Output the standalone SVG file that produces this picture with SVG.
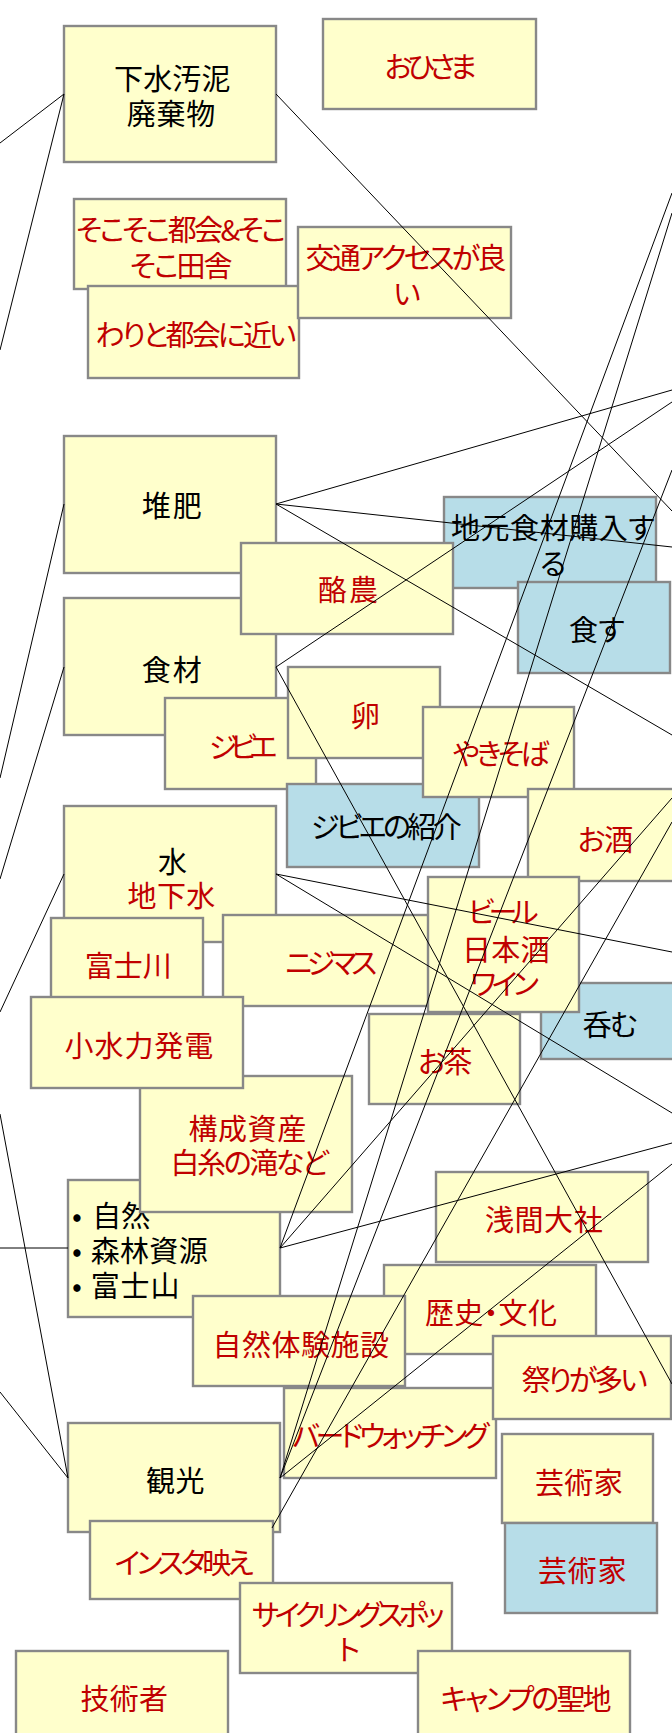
<svg xmlns="http://www.w3.org/2000/svg" width="672" height="1733" viewBox="0 0 672 1733">
<style>
rect.y{fill:#FFFFCC;stroke:#888888;stroke-width:2.4}
rect.bl{fill:#B7DDE8;stroke:#888888;stroke-width:2.4}
text{font-family:"Noto Sans CJK JP","Noto Sans",sans-serif;font-size:29px;font-feature-settings:"palt"}
.r{fill:#C00000}
.k{fill:#000000}
.m{text-anchor:middle}
#connectors line{stroke:#000000;stroke-width:1}
</style>
<rect width="672" height="1733" fill="#FFFFFF"/>
<g id="n-gesui"><rect class="y" x="64" y="26" width="212" height="136"/><text class="k" x="114" y="90" textLength="116.4">下水汚泥</text><text class="k" x="126.7" y="125" textLength="88.6">廃棄物</text></g>
<g id="n-ohisama"><rect class="y" x="323" y="19" width="213" height="90"/><text class="r" x="384.7" y="78" textLength="92">おひさま</text></g>
<g id="n-sokosoko"><rect class="y" x="74" y="199" width="212" height="90"/><text class="r" x="76" y="241" textLength="210">そこそこ都会&amp;そこ</text><text class="r" x="129.7" y="277" textLength="102.7">そこ田舎</text></g>
<g id="n-warito"><rect class="y" x="88" y="286" width="211" height="92"/><text class="r" x="95.4" y="346" textLength="201">わりと都会に近い</text></g>
<g id="n-koutsu"><rect class="y" x="298" y="227" width="213" height="91"/><text class="r" x="305.5" y="269" textLength="201">交通アクセスが良</text><text class="r m" x="407" y="305">い</text></g>
<g id="n-taihi"><rect class="y" x="64" y="436" width="212" height="137"/><text class="k" x="141.7" y="517" textLength="60">堆肥</text></g>
<g id="n-shokuzai"><rect class="y" x="64" y="598" width="212" height="137"/><text class="k" x="141.7" y="681" textLength="60">食材</text></g>
<g id="n-jimoto"><rect class="bl" x="444" y="497" width="212" height="91"/><text class="k" x="451" y="538.5" textLength="203.6">地元食材購入す</text><text class="k m" x="553" y="575">る</text></g>
<g id="n-rakunou"><rect class="y" x="241" y="543" width="212" height="91"/><text class="r" x="318" y="601" textLength="60">酪農</text></g>
<g id="n-shokusu"><rect class="bl" x="518" y="582" width="152" height="91"/><text class="k" x="569" y="641" textLength="55.6">食す</text></g>
<g id="n-jibie"><rect class="y" x="165" y="698" width="151" height="91"/><text class="r" x="209" y="758" textLength="68.4">ジビエ</text></g>
<g id="n-tamago"><rect class="y" x="288" y="667" width="152" height="91"/><text class="r m" x="365.4" y="727">卵</text></g>
<g id="n-jibie-shokai"><rect class="bl" x="287" y="784" width="192" height="83"/><text class="k" x="311" y="838" textLength="150.8">ジビエの紹介</text></g>
<g id="n-yakisoba"><rect class="y" x="423" y="707" width="151" height="90"/><text class="r" x="452.5" y="765" textLength="97">やきそば</text></g>
<g id="n-osake"><rect class="y" x="528" y="789" width="160" height="92"/><text class="r" x="577.6" y="851" textLength="55.6">お酒</text></g>
<g id="n-mizu"><rect class="y" x="64" y="806" width="212" height="136"/><text class="k m" x="172.5" y="873">水</text><text class="r" x="127.6" y="907" textLength="87.7">地下水</text></g>
<g id="n-fujikawa"><rect class="y" x="51" y="918" width="152" height="91"/><text class="r" x="84.7" y="977" textLength="87">富士川</text></g>
<g id="n-nijimasu"><rect class="y" x="223" y="915" width="212" height="91"/><text class="r" x="285.3" y="974" textLength="92">ニジマス</text></g>
<g id="n-nomu"><rect class="bl" x="541" y="983" width="152" height="76"/><text class="k" x="582.8" y="1036" textLength="54.7">呑む</text></g>
<g id="n-beer"><rect class="y" x="428" y="877" width="151" height="135"/><text class="r" x="468" y="923" textLength="70.6">ビール</text><text class="r" x="462" y="961" textLength="87.7">日本酒</text><text class="r" x="470.5" y="995" textLength="68.4">ワイン</text></g>
<g id="n-ocha"><rect class="y" x="369" y="1014" width="151" height="90"/><text class="r" x="418" y="1073" textLength="54.3">お茶</text></g>
<g id="n-shizen"><rect class="y" x="68" y="1180" width="212" height="137"/><text class="k m" x="77" y="1227">•</text><text class="k m" x="77" y="1262">•</text><text class="k m" x="77" y="1297">•</text><text class="k" x="92.3" y="1227" textLength="58">自然</text><text class="k" x="90.7" y="1262" textLength="117">森林資源</text><text class="k" x="90.7" y="1297" textLength="88.7">富士山</text></g>
<g id="n-kousei"><rect class="y" x="140" y="1076" width="212" height="136"/><text class="r" x="188.5" y="1140" textLength="117.7">構成資産</text><text class="r" x="170.4" y="1174" textLength="158.4">白糸の滝など</text></g>
<g id="n-shousuiryoku"><rect class="y" x="31" y="997" width="212" height="91"/><text class="r" x="64.6" y="1057" textLength="148.6">小水力発電</text></g>
<g id="n-sengen"><rect class="y" x="436" y="1172" width="212" height="90"/><text class="r" x="485" y="1231" textLength="117.7">浅間大社</text></g>
<g id="n-rekishi"><rect class="y" x="384" y="1265" width="212" height="89"/><text class="r" x="425" y="1324" textLength="132">歴史・文化</text></g>
<g id="n-shizentaiken"><rect class="y" x="193" y="1296" width="212" height="90"/><text class="r" x="212.5" y="1355.5" textLength="176.5">自然体験施設</text></g>
<g id="n-bird"><rect class="y" x="284" y="1388" width="212" height="90"/><text class="r" x="292.3" y="1447" textLength="197">バードウォッチング</text></g>
<g id="n-matsuri"><rect class="y" x="493" y="1336" width="178" height="83"/><text class="r" x="521.7" y="1391" textLength="126">祭りが多い</text></g>
<g id="n-kankou"><rect class="y" x="68" y="1423" width="212" height="109"/><text class="k" x="146" y="1492" textLength="58.6">観光</text></g>
<g id="n-insta"><rect class="y" x="90" y="1521" width="183" height="78"/><text class="r" x="114.7" y="1574" textLength="139">インスタ映え</text></g>
<g id="n-cycling"><rect class="y" x="240" y="1583" width="212" height="90"/><text class="r" x="251.9" y="1626" textLength="192.7">サイクリングスポッ</text><text class="r m" x="349" y="1661">ト</text></g>
<g id="n-camp"><rect class="y" x="418" y="1651" width="212" height="100"/><text class="r" x="440.5" y="1710" textLength="171">キャンプの聖地</text></g>
<g id="n-gijutsusha"><rect class="y" x="16" y="1651" width="212" height="100"/><text class="r" x="80.4" y="1710" textLength="87.7">技術者</text></g>
<g id="n-geijutsuka1"><rect class="y" x="502" y="1434" width="151" height="89"/><text class="r" x="535" y="1494" textLength="87.7">芸術家</text></g>
<g id="n-geijutsuka2"><rect class="bl" x="505" y="1523" width="152" height="90"/><text class="r" x="538" y="1582" textLength="88.6">芸術家</text></g>
<g id="connectors">
<line x1="64" y1="94" x2="0" y2="143"/>
<line x1="64" y1="94" x2="0" y2="350"/>
<line x1="64" y1="504" x2="0" y2="778"/>
<line x1="64" y1="667" x2="0" y2="879"/>
<line x1="64" y1="874" x2="0" y2="1012"/>
<line x1="68" y1="1248" x2="0" y2="1248"/>
<line x1="68" y1="1478" x2="0" y2="1114"/>
<line x1="68" y1="1478" x2="0" y2="1392"/>
<line x1="276" y1="94" x2="672" y2="511"/>
<line x1="276" y1="504" x2="672" y2="390"/>
<line x1="276" y1="504" x2="672" y2="547"/>
<line x1="276" y1="504" x2="672" y2="735"/>
<line x1="276" y1="667" x2="672" y2="402"/>
<line x1="276" y1="667" x2="672" y2="1384"/>
<line x1="276" y1="874" x2="672" y2="952"/>
<line x1="276" y1="874" x2="672" y2="1113"/>
<line x1="280" y1="1248" x2="672" y2="193"/>
<line x1="280" y1="1248" x2="672" y2="798"/>
<line x1="280" y1="1248" x2="672" y2="1143"/>
<line x1="280" y1="1478" x2="672" y2="213"/>
<line x1="280" y1="1478" x2="672" y2="470"/>
<line x1="280" y1="1478" x2="672" y2="1164"/>
<line x1="272" y1="1528" x2="672" y2="822"/>
</g>
</svg>
